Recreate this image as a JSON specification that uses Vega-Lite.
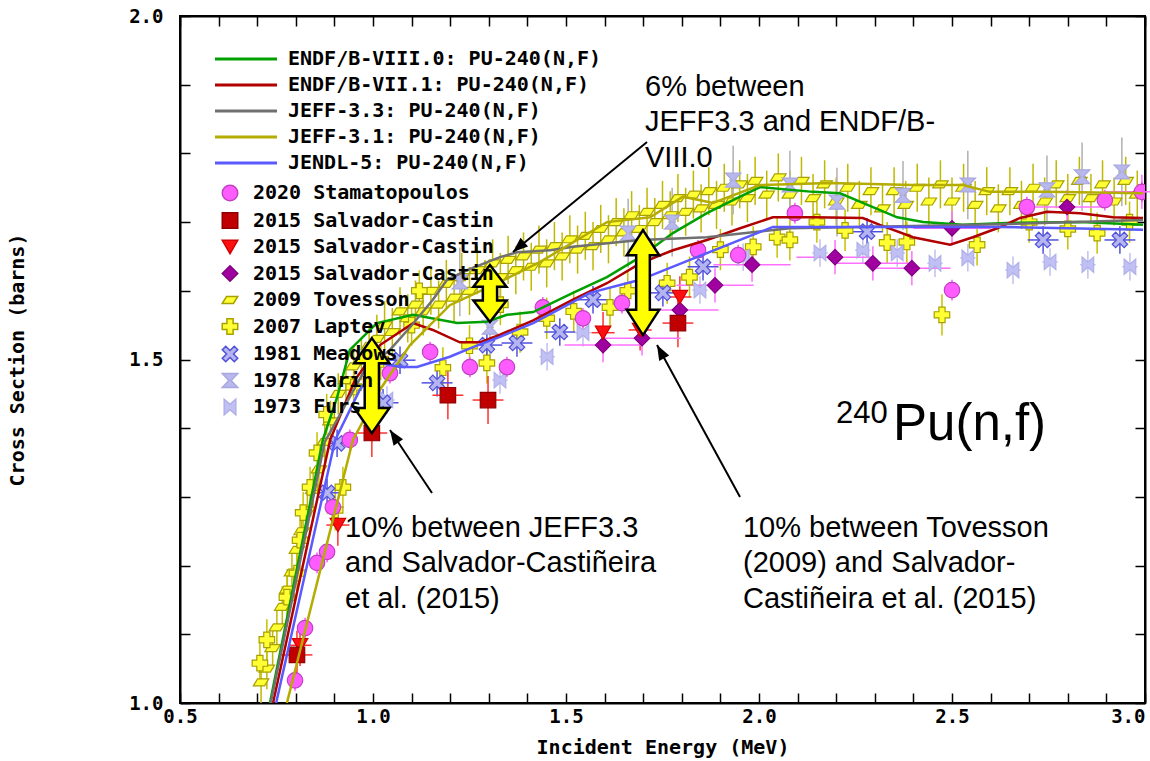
{
  "$schema": "https://vega.github.io/schema/vega-lite/v6.json",
  "width": 965,
  "height": 687,
  "autosize": {"type": "none"},
  "padding": {"left": 180, "top": 16, "right": 5, "bottom": 58},
  "background": "white",
  "config": {
    "view": {"stroke": "black", "strokeWidth": 2},
    "axis": {"grid": false, "domainColor": "black", "domainWidth": 2, "tickColor": "black", "tickWidth": 1.5, "labelColor": "black", "titleColor": "black", "labelFont": "DejaVu Sans Mono", "labelFontWeight": "bold", "labelFontSize": 19, "titleFont": "DejaVu Sans Mono", "titleFontWeight": "bold", "titleFontSize": 20, "labelFlush": false, "labelOverlap": false},
    "legend": {"labelFont": "DejaVu Sans Mono", "labelFontWeight": "bold", "labelFontSize": 20, "labelColor": "black", "labelLimit": 600}
  },
  "datasets": {
    "eval": [
      {"lib": "ENDF/B-VIII.0: PU-240(N,F)", "energy": 0.733, "xs": 1.0},
      {"lib": "ENDF/B-VIII.0: PU-240(N,F)", "energy": 0.87, "xs": 1.383},
      {"lib": "ENDF/B-VIII.0: PU-240(N,F)", "energy": 0.907, "xs": 1.445},
      {"lib": "ENDF/B-VIII.0: PU-240(N,F)", "energy": 0.94, "xs": 1.514},
      {"lib": "ENDF/B-VIII.0: PU-240(N,F)", "energy": 1.01, "xs": 1.553},
      {"lib": "ENDF/B-VIII.0: PU-240(N,F)", "energy": 1.104, "xs": 1.565},
      {"lib": "ENDF/B-VIII.0: PU-240(N,F)", "energy": 1.218, "xs": 1.553},
      {"lib": "ENDF/B-VIII.0: PU-240(N,F)", "energy": 1.295, "xs": 1.555},
      {"lib": "ENDF/B-VIII.0: PU-240(N,F)", "energy": 1.347, "xs": 1.565},
      {"lib": "ENDF/B-VIII.0: PU-240(N,F)", "energy": 1.415, "xs": 1.569},
      {"lib": "ENDF/B-VIII.0: PU-240(N,F)", "energy": 1.518, "xs": 1.597},
      {"lib": "ENDF/B-VIII.0: PU-240(N,F)", "energy": 1.606, "xs": 1.62},
      {"lib": "ENDF/B-VIII.0: PU-240(N,F)", "energy": 1.692, "xs": 1.649},
      {"lib": "ENDF/B-VIII.0: PU-240(N,F)", "energy": 1.777, "xs": 1.684},
      {"lib": "ENDF/B-VIII.0: PU-240(N,F)", "energy": 1.865, "xs": 1.713},
      {"lib": "ENDF/B-VIII.0: PU-240(N,F)", "energy": 1.951, "xs": 1.737},
      {"lib": "ENDF/B-VIII.0: PU-240(N,F)", "energy": 2.003, "xs": 1.751},
      {"lib": "ENDF/B-VIII.0: PU-240(N,F)", "energy": 2.14, "xs": 1.744},
      {"lib": "ENDF/B-VIII.0: PU-240(N,F)", "energy": 2.21, "xs": 1.742},
      {"lib": "ENDF/B-VIII.0: PU-240(N,F)", "energy": 2.269, "xs": 1.728},
      {"lib": "ENDF/B-VIII.0: PU-240(N,F)", "energy": 2.358, "xs": 1.707},
      {"lib": "ENDF/B-VIII.0: PU-240(N,F)", "energy": 2.425, "xs": 1.7},
      {"lib": "ENDF/B-VIII.0: PU-240(N,F)", "energy": 2.528, "xs": 1.696},
      {"lib": "ENDF/B-VIII.0: PU-240(N,F)", "energy": 2.658, "xs": 1.699},
      {"lib": "ENDF/B-VIII.0: PU-240(N,F)", "energy": 2.832, "xs": 1.7},
      {"lib": "ENDF/B-VIII.0: PU-240(N,F)", "energy": 2.995, "xs": 1.696},
      {"lib": "ENDF/B-VII.1: PU-240(N,F)", "energy": 0.741, "xs": 1.0},
      {"lib": "ENDF/B-VII.1: PU-240(N,F)", "energy": 0.889, "xs": 1.383},
      {"lib": "ENDF/B-VII.1: PU-240(N,F)", "energy": 0.953, "xs": 1.47},
      {"lib": "ENDF/B-VII.1: PU-240(N,F)", "energy": 1.018, "xs": 1.521},
      {"lib": "ENDF/B-VII.1: PU-240(N,F)", "energy": 1.104, "xs": 1.553},
      {"lib": "ENDF/B-VII.1: PU-240(N,F)", "energy": 1.155, "xs": 1.543},
      {"lib": "ENDF/B-VII.1: PU-240(N,F)", "energy": 1.225, "xs": 1.525},
      {"lib": "ENDF/B-VII.1: PU-240(N,F)", "energy": 1.277, "xs": 1.525},
      {"lib": "ENDF/B-VII.1: PU-240(N,F)", "energy": 1.329, "xs": 1.536},
      {"lib": "ENDF/B-VII.1: PU-240(N,F)", "energy": 1.415, "xs": 1.557},
      {"lib": "ENDF/B-VII.1: PU-240(N,F)", "energy": 1.518, "xs": 1.587},
      {"lib": "ENDF/B-VII.1: PU-240(N,F)", "energy": 1.606, "xs": 1.611},
      {"lib": "ENDF/B-VII.1: PU-240(N,F)", "energy": 1.692, "xs": 1.64},
      {"lib": "ENDF/B-VII.1: PU-240(N,F)", "energy": 1.777, "xs": 1.659},
      {"lib": "ENDF/B-VII.1: PU-240(N,F)", "energy": 1.865, "xs": 1.674},
      {"lib": "ENDF/B-VII.1: PU-240(N,F)", "energy": 1.951, "xs": 1.691},
      {"lib": "ENDF/B-VII.1: PU-240(N,F)", "energy": 2.036, "xs": 1.707},
      {"lib": "ENDF/B-VII.1: PU-240(N,F)", "energy": 2.14, "xs": 1.707},
      {"lib": "ENDF/B-VII.1: PU-240(N,F)", "energy": 2.269, "xs": 1.706},
      {"lib": "ENDF/B-VII.1: PU-240(N,F)", "energy": 2.313, "xs": 1.696},
      {"lib": "ENDF/B-VII.1: PU-240(N,F)", "energy": 2.399, "xs": 1.678},
      {"lib": "ENDF/B-VII.1: PU-240(N,F)", "energy": 2.495, "xs": 1.667},
      {"lib": "ENDF/B-VII.1: PU-240(N,F)", "energy": 2.554, "xs": 1.678},
      {"lib": "ENDF/B-VII.1: PU-240(N,F)", "energy": 2.617, "xs": 1.691},
      {"lib": "ENDF/B-VII.1: PU-240(N,F)", "energy": 2.676, "xs": 1.706},
      {"lib": "ENDF/B-VII.1: PU-240(N,F)", "energy": 2.746, "xs": 1.715},
      {"lib": "ENDF/B-VII.1: PU-240(N,F)", "energy": 2.832, "xs": 1.713},
      {"lib": "ENDF/B-VII.1: PU-240(N,F)", "energy": 2.917, "xs": 1.707},
      {"lib": "ENDF/B-VII.1: PU-240(N,F)", "energy": 2.995, "xs": 1.706},
      {"lib": "JEFF-3.3: PU-240(N,F)", "energy": 0.735, "xs": 1.0},
      {"lib": "JEFF-3.3: PU-240(N,F)", "energy": 0.875, "xs": 1.38},
      {"lib": "JEFF-3.3: PU-240(N,F)", "energy": 0.979, "xs": 1.485},
      {"lib": "JEFF-3.3: PU-240(N,F)", "energy": 1.044, "xs": 1.514},
      {"lib": "JEFF-3.3: PU-240(N,F)", "energy": 1.096, "xs": 1.547},
      {"lib": "JEFF-3.3: PU-240(N,F)", "energy": 1.155, "xs": 1.587},
      {"lib": "JEFF-3.3: PU-240(N,F)", "energy": 1.192, "xs": 1.616},
      {"lib": "JEFF-3.3: PU-240(N,F)", "energy": 1.244, "xs": 1.63},
      {"lib": "JEFF-3.3: PU-240(N,F)", "energy": 1.329, "xs": 1.649},
      {"lib": "JEFF-3.3: PU-240(N,F)", "energy": 1.373, "xs": 1.656},
      {"lib": "JEFF-3.3: PU-240(N,F)", "energy": 1.459, "xs": 1.659},
      {"lib": "JEFF-3.3: PU-240(N,F)", "energy": 1.518, "xs": 1.664},
      {"lib": "JEFF-3.3: PU-240(N,F)", "energy": 1.692, "xs": 1.674},
      {"lib": "JEFF-3.3: PU-240(N,F)", "energy": 1.865, "xs": 1.678},
      {"lib": "JEFF-3.3: PU-240(N,F)", "energy": 2.08, "xs": 1.691},
      {"lib": "JEFF-3.3: PU-240(N,F)", "energy": 2.365, "xs": 1.694},
      {"lib": "JEFF-3.3: PU-240(N,F)", "energy": 2.624, "xs": 1.697},
      {"lib": "JEFF-3.3: PU-240(N,F)", "energy": 2.995, "xs": 1.703},
      {"lib": "JEFF-3.1: PU-240(N,F)", "energy": 0.777, "xs": 1.0},
      {"lib": "JEFF-3.1: PU-240(N,F)", "energy": 0.948, "xs": 1.383},
      {"lib": "JEFF-3.1: PU-240(N,F)", "energy": 1.018, "xs": 1.456},
      {"lib": "JEFF-3.1: PU-240(N,F)", "energy": 1.096, "xs": 1.521},
      {"lib": "JEFF-3.1: PU-240(N,F)", "energy": 1.199, "xs": 1.579},
      {"lib": "JEFF-3.1: PU-240(N,F)", "energy": 1.329, "xs": 1.613},
      {"lib": "JEFF-3.1: PU-240(N,F)", "energy": 1.433, "xs": 1.642},
      {"lib": "JEFF-3.1: PU-240(N,F)", "energy": 1.606, "xs": 1.7},
      {"lib": "JEFF-3.1: PU-240(N,F)", "energy": 1.718, "xs": 1.707},
      {"lib": "JEFF-3.1: PU-240(N,F)", "energy": 1.803, "xs": 1.737},
      {"lib": "JEFF-3.1: PU-240(N,F)", "energy": 1.881, "xs": 1.728},
      {"lib": "JEFF-3.1: PU-240(N,F)", "energy": 2.003, "xs": 1.754},
      {"lib": "JEFF-3.1: PU-240(N,F)", "energy": 2.184, "xs": 1.757},
      {"lib": "JEFF-3.1: PU-240(N,F)", "energy": 2.399, "xs": 1.754},
      {"lib": "JEFF-3.1: PU-240(N,F)", "energy": 2.528, "xs": 1.754},
      {"lib": "JEFF-3.1: PU-240(N,F)", "energy": 2.598, "xs": 1.744},
      {"lib": "JEFF-3.1: PU-240(N,F)", "energy": 2.746, "xs": 1.744},
      {"lib": "JEFF-3.1: PU-240(N,F)", "energy": 2.995, "xs": 1.742},
      {"lib": "JENDL-5: PU-240(N,F)", "energy": 0.749, "xs": 1.0},
      {"lib": "JENDL-5: PU-240(N,F)", "energy": 0.902, "xs": 1.383},
      {"lib": "JENDL-5: PU-240(N,F)", "energy": 0.966, "xs": 1.456},
      {"lib": "JENDL-5: PU-240(N,F)", "energy": 1.018, "xs": 1.495},
      {"lib": "JENDL-5: PU-240(N,F)", "energy": 1.07, "xs": 1.489},
      {"lib": "JENDL-5: PU-240(N,F)", "energy": 1.114, "xs": 1.489},
      {"lib": "JENDL-5: PU-240(N,F)", "energy": 1.199, "xs": 1.504},
      {"lib": "JENDL-5: PU-240(N,F)", "energy": 1.259, "xs": 1.518},
      {"lib": "JENDL-5: PU-240(N,F)", "energy": 1.329, "xs": 1.533},
      {"lib": "JENDL-5: PU-240(N,F)", "energy": 1.415, "xs": 1.553},
      {"lib": "JENDL-5: PU-240(N,F)", "energy": 1.562, "xs": 1.597},
      {"lib": "JENDL-5: PU-240(N,F)", "energy": 1.692, "xs": 1.616},
      {"lib": "JENDL-5: PU-240(N,F)", "energy": 1.821, "xs": 1.645},
      {"lib": "JENDL-5: PU-240(N,F)", "energy": 1.951, "xs": 1.674},
      {"lib": "JENDL-5: PU-240(N,F)", "energy": 2.036, "xs": 1.693},
      {"lib": "JENDL-5: PU-240(N,F)", "energy": 2.365, "xs": 1.693},
      {"lib": "JENDL-5: PU-240(N,F)", "energy": 2.624, "xs": 1.693},
      {"lib": "JENDL-5: PU-240(N,F)", "energy": 2.995, "xs": 1.689}
    ],
    "exp": [
      {"series": "2009 Tovesson", "energy": 0.71, "xs": 1.03, "dE": 0.012, "dxs": 0.03},
      {"series": "2009 Tovesson", "energy": 0.725, "xs": 1.05, "dE": 0.012, "dxs": 0.03},
      {"series": "2009 Tovesson", "energy": 0.74, "xs": 1.08, "dE": 0.012, "dxs": 0.03},
      {"series": "2009 Tovesson", "energy": 0.751, "xs": 1.11, "dE": 0.012, "dxs": 0.03},
      {"series": "2009 Tovesson", "energy": 0.765, "xs": 1.14, "dE": 0.012, "dxs": 0.03},
      {"series": "2009 Tovesson", "energy": 0.778, "xs": 1.165, "dE": 0.012, "dxs": 0.03},
      {"series": "2009 Tovesson", "energy": 0.79, "xs": 1.19, "dE": 0.012, "dxs": 0.03},
      {"series": "2009 Tovesson", "energy": 0.803, "xs": 1.223, "dE": 0.012, "dxs": 0.03},
      {"series": "2009 Tovesson", "energy": 0.815, "xs": 1.25, "dE": 0.012, "dxs": 0.03},
      {"series": "2009 Tovesson", "energy": 0.83, "xs": 1.28, "dE": 0.012, "dxs": 0.03},
      {"series": "2009 Tovesson", "energy": 0.845, "xs": 1.31, "dE": 0.012, "dxs": 0.03},
      {"series": "2009 Tovesson", "energy": 0.86, "xs": 1.34, "dE": 0.012, "dxs": 0.03},
      {"series": "2009 Tovesson", "energy": 0.875, "xs": 1.38, "dE": 0.012, "dxs": 0.03},
      {"series": "2009 Tovesson", "energy": 0.89, "xs": 1.41, "dE": 0.012, "dxs": 0.03},
      {"series": "2009 Tovesson", "energy": 0.91, "xs": 1.45, "dE": 0.012, "dxs": 0.03},
      {"series": "2009 Tovesson", "energy": 0.93, "xs": 1.47, "dE": 0.012, "dxs": 0.03},
      {"series": "2009 Tovesson", "energy": 0.95, "xs": 1.49, "dE": 0.012, "dxs": 0.03},
      {"series": "2009 Tovesson", "energy": 0.97, "xs": 1.5, "dE": 0.012, "dxs": 0.03},
      {"series": "2009 Tovesson", "energy": 0.99, "xs": 1.52, "dE": 0.012, "dxs": 0.03},
      {"series": "2009 Tovesson", "energy": 1.01, "xs": 1.53, "dE": 0.012, "dxs": 0.035},
      {"series": "2009 Tovesson", "energy": 1.03, "xs": 1.55, "dE": 0.012, "dxs": 0.035},
      {"series": "2009 Tovesson", "energy": 1.05, "xs": 1.54, "dE": 0.012, "dxs": 0.035},
      {"series": "2009 Tovesson", "energy": 1.07, "xs": 1.57, "dE": 0.012, "dxs": 0.035},
      {"series": "2009 Tovesson", "energy": 1.09, "xs": 1.56, "dE": 0.012, "dxs": 0.035},
      {"series": "2009 Tovesson", "energy": 1.11, "xs": 1.58, "dE": 0.012, "dxs": 0.035},
      {"series": "2009 Tovesson", "energy": 1.13, "xs": 1.57, "dE": 0.012, "dxs": 0.035},
      {"series": "2009 Tovesson", "energy": 1.15, "xs": 1.6, "dE": 0.012, "dxs": 0.035},
      {"series": "2009 Tovesson", "energy": 1.17, "xs": 1.58, "dE": 0.012, "dxs": 0.035},
      {"series": "2009 Tovesson", "energy": 1.19, "xs": 1.61, "dE": 0.012, "dxs": 0.035},
      {"series": "2009 Tovesson", "energy": 1.21, "xs": 1.59, "dE": 0.012, "dxs": 0.035},
      {"series": "2009 Tovesson", "energy": 1.23, "xs": 1.62, "dE": 0.012, "dxs": 0.035},
      {"series": "2009 Tovesson", "energy": 1.25, "xs": 1.6, "dE": 0.012, "dxs": 0.035},
      {"series": "2009 Tovesson", "energy": 1.27, "xs": 1.63, "dE": 0.012, "dxs": 0.035},
      {"series": "2009 Tovesson", "energy": 1.29, "xs": 1.61, "dE": 0.012, "dxs": 0.035},
      {"series": "2009 Tovesson", "energy": 1.31, "xs": 1.64, "dE": 0.012, "dxs": 0.035},
      {"series": "2009 Tovesson", "energy": 1.33, "xs": 1.62, "dE": 0.012, "dxs": 0.035},
      {"series": "2009 Tovesson", "energy": 1.35, "xs": 1.645, "dE": 0.012, "dxs": 0.035},
      {"series": "2009 Tovesson", "energy": 1.37, "xs": 1.63, "dE": 0.012, "dxs": 0.035},
      {"series": "2009 Tovesson", "energy": 1.39, "xs": 1.65, "dE": 0.012, "dxs": 0.035},
      {"series": "2009 Tovesson", "energy": 1.41, "xs": 1.635, "dE": 0.012, "dxs": 0.035},
      {"series": "2009 Tovesson", "energy": 1.43, "xs": 1.66, "dE": 0.012, "dxs": 0.035},
      {"series": "2009 Tovesson", "energy": 1.45, "xs": 1.64, "dE": 0.012, "dxs": 0.035},
      {"series": "2009 Tovesson", "energy": 1.47, "xs": 1.665, "dE": 0.012, "dxs": 0.035},
      {"series": "2009 Tovesson", "energy": 1.49, "xs": 1.65, "dE": 0.012, "dxs": 0.035},
      {"series": "2009 Tovesson", "energy": 1.51, "xs": 1.675, "dE": 0.012, "dxs": 0.035},
      {"series": "2009 Tovesson", "energy": 1.53, "xs": 1.66, "dE": 0.012, "dxs": 0.035},
      {"series": "2009 Tovesson", "energy": 1.55, "xs": 1.68, "dE": 0.012, "dxs": 0.035},
      {"series": "2009 Tovesson", "energy": 1.57, "xs": 1.665, "dE": 0.012, "dxs": 0.035},
      {"series": "2009 Tovesson", "energy": 1.59, "xs": 1.69, "dE": 0.012, "dxs": 0.035},
      {"series": "2009 Tovesson", "energy": 1.61, "xs": 1.675, "dE": 0.012, "dxs": 0.035},
      {"series": "2009 Tovesson", "energy": 1.63, "xs": 1.7, "dE": 0.012, "dxs": 0.035},
      {"series": "2009 Tovesson", "energy": 1.65, "xs": 1.685, "dE": 0.012, "dxs": 0.035},
      {"series": "2009 Tovesson", "energy": 1.67, "xs": 1.71, "dE": 0.012, "dxs": 0.035},
      {"series": "2009 Tovesson", "energy": 1.69, "xs": 1.69, "dE": 0.012, "dxs": 0.035},
      {"series": "2009 Tovesson", "energy": 1.71, "xs": 1.715, "dE": 0.012, "dxs": 0.035},
      {"series": "2009 Tovesson", "energy": 1.73, "xs": 1.7, "dE": 0.012, "dxs": 0.035},
      {"series": "2009 Tovesson", "energy": 1.75, "xs": 1.725, "dE": 0.012, "dxs": 0.035},
      {"series": "2009 Tovesson", "energy": 1.77, "xs": 1.71, "dE": 0.012, "dxs": 0.035},
      {"series": "2009 Tovesson", "energy": 1.79, "xs": 1.735, "dE": 0.012, "dxs": 0.035},
      {"series": "2009 Tovesson", "energy": 1.81, "xs": 1.715, "dE": 0.012, "dxs": 0.035},
      {"series": "2009 Tovesson", "energy": 1.83, "xs": 1.74, "dE": 0.012, "dxs": 0.035},
      {"series": "2009 Tovesson", "energy": 1.85, "xs": 1.72, "dE": 0.012, "dxs": 0.035},
      {"series": "2009 Tovesson", "energy": 1.87, "xs": 1.745, "dE": 0.012, "dxs": 0.035},
      {"series": "2009 Tovesson", "energy": 1.89, "xs": 1.725, "dE": 0.012, "dxs": 0.035},
      {"series": "2009 Tovesson", "energy": 1.91, "xs": 1.75, "dE": 0.012, "dxs": 0.035},
      {"series": "2009 Tovesson", "energy": 1.93, "xs": 1.73, "dE": 0.012, "dxs": 0.035},
      {"series": "2009 Tovesson", "energy": 1.95, "xs": 1.755, "dE": 0.012, "dxs": 0.035},
      {"series": "2009 Tovesson", "energy": 1.97, "xs": 1.735, "dE": 0.012, "dxs": 0.035},
      {"series": "2009 Tovesson", "energy": 1.99, "xs": 1.76, "dE": 0.012, "dxs": 0.035},
      {"series": "2009 Tovesson", "energy": 2.02, "xs": 1.74, "dE": 0.012, "dxs": 0.035},
      {"series": "2009 Tovesson", "energy": 2.05, "xs": 1.765, "dE": 0.012, "dxs": 0.035},
      {"series": "2009 Tovesson", "energy": 2.08, "xs": 1.74, "dE": 0.012, "dxs": 0.035},
      {"series": "2009 Tovesson", "energy": 2.11, "xs": 1.76, "dE": 0.012, "dxs": 0.035},
      {"series": "2009 Tovesson", "energy": 2.14, "xs": 1.735, "dE": 0.012, "dxs": 0.035},
      {"series": "2009 Tovesson", "energy": 2.17, "xs": 1.755, "dE": 0.012, "dxs": 0.035},
      {"series": "2009 Tovesson", "energy": 2.2, "xs": 1.73, "dE": 0.012, "dxs": 0.035},
      {"series": "2009 Tovesson", "energy": 2.23, "xs": 1.75, "dE": 0.012, "dxs": 0.035},
      {"series": "2009 Tovesson", "energy": 2.26, "xs": 1.725, "dE": 0.012, "dxs": 0.035},
      {"series": "2009 Tovesson", "energy": 2.29, "xs": 1.745, "dE": 0.012, "dxs": 0.035},
      {"series": "2009 Tovesson", "energy": 2.32, "xs": 1.72, "dE": 0.012, "dxs": 0.035},
      {"series": "2009 Tovesson", "energy": 2.35, "xs": 1.745, "dE": 0.012, "dxs": 0.035},
      {"series": "2009 Tovesson", "energy": 2.38, "xs": 1.725, "dE": 0.012, "dxs": 0.035},
      {"series": "2009 Tovesson", "energy": 2.41, "xs": 1.75, "dE": 0.012, "dxs": 0.035},
      {"series": "2009 Tovesson", "energy": 2.44, "xs": 1.73, "dE": 0.012, "dxs": 0.035},
      {"series": "2009 Tovesson", "energy": 2.47, "xs": 1.755, "dE": 0.012, "dxs": 0.035},
      {"series": "2009 Tovesson", "energy": 2.5, "xs": 1.73, "dE": 0.012, "dxs": 0.035},
      {"series": "2009 Tovesson", "energy": 2.53, "xs": 1.75, "dE": 0.012, "dxs": 0.035},
      {"series": "2009 Tovesson", "energy": 2.56, "xs": 1.725, "dE": 0.012, "dxs": 0.035},
      {"series": "2009 Tovesson", "energy": 2.59, "xs": 1.745, "dE": 0.012, "dxs": 0.035},
      {"series": "2009 Tovesson", "energy": 2.62, "xs": 1.72, "dE": 0.012, "dxs": 0.035},
      {"series": "2009 Tovesson", "energy": 2.65, "xs": 1.745, "dE": 0.012, "dxs": 0.035},
      {"series": "2009 Tovesson", "energy": 2.68, "xs": 1.725, "dE": 0.012, "dxs": 0.035},
      {"series": "2009 Tovesson", "energy": 2.71, "xs": 1.75, "dE": 0.012, "dxs": 0.035},
      {"series": "2009 Tovesson", "energy": 2.74, "xs": 1.73, "dE": 0.012, "dxs": 0.035},
      {"series": "2009 Tovesson", "energy": 2.77, "xs": 1.755, "dE": 0.012, "dxs": 0.035},
      {"series": "2009 Tovesson", "energy": 2.8, "xs": 1.735, "dE": 0.012, "dxs": 0.035},
      {"series": "2009 Tovesson", "energy": 2.83, "xs": 1.76, "dE": 0.012, "dxs": 0.035},
      {"series": "2009 Tovesson", "energy": 2.86, "xs": 1.735, "dE": 0.012, "dxs": 0.035},
      {"series": "2009 Tovesson", "energy": 2.89, "xs": 1.755, "dE": 0.012, "dxs": 0.035},
      {"series": "2009 Tovesson", "energy": 2.92, "xs": 1.73, "dE": 0.012, "dxs": 0.035},
      {"series": "2009 Tovesson", "energy": 2.95, "xs": 1.76, "dE": 0.012, "dxs": 0.035},
      {"series": "2009 Tovesson", "energy": 2.98, "xs": 1.74, "dE": 0.012, "dxs": 0.035},
      {"series": "2007 Laptev", "energy": 0.707, "xs": 1.058, "dE": 0.02, "dxs": 0.03},
      {"series": "2007 Laptev", "energy": 0.725, "xs": 1.092, "dE": 0.02, "dxs": 0.03},
      {"series": "2007 Laptev", "energy": 0.777, "xs": 1.154, "dE": 0.02, "dxs": 0.03},
      {"series": "2007 Laptev", "energy": 0.803, "xs": 1.189, "dE": 0.02, "dxs": 0.03},
      {"series": "2007 Laptev", "energy": 0.811, "xs": 1.237, "dE": 0.02, "dxs": 0.03},
      {"series": "2007 Laptev", "energy": 0.819, "xs": 1.277, "dE": 0.02, "dxs": 0.03},
      {"series": "2007 Laptev", "energy": 0.837, "xs": 1.314, "dE": 0.02, "dxs": 0.03},
      {"series": "2007 Laptev", "energy": 0.855, "xs": 1.364, "dE": 0.02, "dxs": 0.03},
      {"series": "2007 Laptev", "energy": 0.902, "xs": 1.281, "dE": 0.02, "dxs": 0.03},
      {"series": "2007 Laptev", "energy": 0.922, "xs": 1.314, "dE": 0.02, "dxs": 0.03},
      {"series": "2007 Laptev", "energy": 0.88, "xs": 1.42, "dE": 0.02, "dxs": 0.03},
      {"series": "2007 Laptev", "energy": 0.95, "xs": 1.46, "dE": 0.02, "dxs": 0.03},
      {"series": "2007 Laptev", "energy": 1.02, "xs": 1.5, "dE": 0.02, "dxs": 0.03},
      {"series": "2007 Laptev", "energy": 1.1, "xs": 1.55, "dE": 0.02, "dxs": 0.03},
      {"series": "2007 Laptev", "energy": 1.12, "xs": 1.6, "dE": 0.02, "dxs": 0.03},
      {"series": "2007 Laptev", "energy": 1.181, "xs": 1.488, "dE": 0.02, "dxs": 0.03},
      {"series": "2007 Laptev", "energy": 1.25, "xs": 1.52, "dE": 0.02, "dxs": 0.03},
      {"series": "2007 Laptev", "energy": 1.295, "xs": 1.495, "dE": 0.02, "dxs": 0.03},
      {"series": "2007 Laptev", "energy": 1.33, "xs": 1.58, "dE": 0.02, "dxs": 0.03},
      {"series": "2007 Laptev", "energy": 1.381, "xs": 1.54, "dE": 0.02, "dxs": 0.03},
      {"series": "2007 Laptev", "energy": 1.45, "xs": 1.56, "dE": 0.02, "dxs": 0.03},
      {"series": "2007 Laptev", "energy": 1.52, "xs": 1.57, "dE": 0.02, "dxs": 0.03},
      {"series": "2007 Laptev", "energy": 1.614, "xs": 1.576, "dE": 0.02, "dxs": 0.03},
      {"series": "2007 Laptev", "energy": 1.66, "xs": 1.6, "dE": 0.02, "dxs": 0.03},
      {"series": "2007 Laptev", "energy": 1.762, "xs": 1.611, "dE": 0.02, "dxs": 0.03},
      {"series": "2007 Laptev", "energy": 1.82, "xs": 1.62, "dE": 0.02, "dxs": 0.03},
      {"series": "2007 Laptev", "energy": 1.9, "xs": 1.66, "dE": 0.02, "dxs": 0.03},
      {"series": "2007 Laptev", "energy": 1.985, "xs": 1.664, "dE": 0.02, "dxs": 0.03},
      {"series": "2007 Laptev", "energy": 2.047, "xs": 1.678, "dE": 0.02, "dxs": 0.03},
      {"series": "2007 Laptev", "energy": 2.08, "xs": 1.674, "dE": 0.02, "dxs": 0.03},
      {"series": "2007 Laptev", "energy": 2.15, "xs": 1.7, "dE": 0.02, "dxs": 0.03},
      {"series": "2007 Laptev", "energy": 2.223, "xs": 1.688, "dE": 0.02, "dxs": 0.03},
      {"series": "2007 Laptev", "energy": 2.332, "xs": 1.67, "dE": 0.02, "dxs": 0.03},
      {"series": "2007 Laptev", "energy": 2.383, "xs": 1.671, "dE": 0.02, "dxs": 0.03},
      {"series": "2007 Laptev", "energy": 2.474, "xs": 1.565, "dE": 0.02, "dxs": 0.03},
      {"series": "2007 Laptev", "energy": 2.565, "xs": 1.667, "dE": 0.02, "dxs": 0.03},
      {"series": "2007 Laptev", "energy": 2.7, "xs": 1.7, "dE": 0.02, "dxs": 0.03},
      {"series": "2007 Laptev", "energy": 2.8, "xs": 1.69, "dE": 0.02, "dxs": 0.03},
      {"series": "2007 Laptev", "energy": 2.876, "xs": 1.684, "dE": 0.02, "dxs": 0.03},
      {"series": "2007 Laptev", "energy": 2.96, "xs": 1.7, "dE": 0.02, "dxs": 0.03},
      {"series": "1978 Karin", "energy": 1.225, "xs": 1.613, "dE": 0.01, "dxs": 0.05},
      {"series": "1978 Karin", "energy": 1.303, "xs": 1.547, "dE": 0.01, "dxs": 0.05},
      {"series": "1978 Karin", "energy": 1.661, "xs": 1.684, "dE": 0.01, "dxs": 0.05},
      {"series": "1978 Karin", "energy": 1.775, "xs": 1.7, "dE": 0.01, "dxs": 0.05},
      {"series": "1978 Karin", "energy": 1.933, "xs": 1.761, "dE": 0.01, "dxs": 0.05},
      {"series": "1978 Karin", "energy": 2.08, "xs": 1.754, "dE": 0.01, "dxs": 0.05},
      {"series": "1978 Karin", "energy": 2.202, "xs": 1.729, "dE": 0.01, "dxs": 0.05},
      {"series": "1978 Karin", "energy": 2.373, "xs": 1.739, "dE": 0.01, "dxs": 0.05},
      {"series": "1978 Karin", "energy": 2.541, "xs": 1.754, "dE": 0.01, "dxs": 0.05},
      {"series": "1978 Karin", "energy": 2.746, "xs": 1.747, "dE": 0.01, "dxs": 0.05},
      {"series": "1978 Karin", "energy": 2.837, "xs": 1.766, "dE": 0.01, "dxs": 0.05},
      {"series": "1978 Karin", "energy": 2.94, "xs": 1.773, "dE": 0.01, "dxs": 0.05},
      {"series": "1973 Furs", "energy": 1.036, "xs": 1.441, "dE": 0.02, "dxs": 0.02},
      {"series": "1973 Furs", "energy": 1.329, "xs": 1.47, "dE": 0.02, "dxs": 0.02},
      {"series": "1973 Furs", "energy": 1.451, "xs": 1.504, "dE": 0.02, "dxs": 0.02},
      {"series": "1973 Furs", "energy": 1.544, "xs": 1.539, "dE": 0.02, "dxs": 0.02},
      {"series": "1973 Furs", "energy": 1.847, "xs": 1.601, "dE": 0.02, "dxs": 0.02},
      {"series": "1973 Furs", "energy": 1.959, "xs": 1.649, "dE": 0.02, "dxs": 0.02},
      {"series": "1973 Furs", "energy": 2.158, "xs": 1.655, "dE": 0.02, "dxs": 0.02},
      {"series": "1973 Furs", "energy": 2.269, "xs": 1.659, "dE": 0.02, "dxs": 0.02},
      {"series": "1973 Furs", "energy": 2.358, "xs": 1.655, "dE": 0.02, "dxs": 0.02},
      {"series": "1973 Furs", "energy": 2.456, "xs": 1.64, "dE": 0.02, "dxs": 0.02},
      {"series": "1973 Furs", "energy": 2.541, "xs": 1.648, "dE": 0.02, "dxs": 0.02},
      {"series": "1973 Furs", "energy": 2.658, "xs": 1.63, "dE": 0.02, "dxs": 0.02},
      {"series": "1973 Furs", "energy": 2.754, "xs": 1.642, "dE": 0.02, "dxs": 0.02},
      {"series": "1973 Furs", "energy": 2.852, "xs": 1.638, "dE": 0.02, "dxs": 0.02},
      {"series": "1973 Furs", "energy": 2.961, "xs": 1.635, "dE": 0.02, "dxs": 0.02},
      {"series": "1981 Meadows", "energy": 0.881, "xs": 1.306, "dE": 0.04, "dxs": 0.02},
      {"series": "1981 Meadows", "energy": 0.907, "xs": 1.378, "dE": 0.04, "dxs": 0.02},
      {"series": "1981 Meadows", "energy": 1.026, "xs": 1.437, "dE": 0.04, "dxs": 0.02},
      {"series": "1981 Meadows", "energy": 1.07, "xs": 1.499, "dE": 0.04, "dxs": 0.02},
      {"series": "1981 Meadows", "energy": 1.166, "xs": 1.466, "dE": 0.04, "dxs": 0.02},
      {"series": "1981 Meadows", "energy": 1.295, "xs": 1.521, "dE": 0.04, "dxs": 0.02},
      {"series": "1981 Meadows", "energy": 1.373, "xs": 1.524, "dE": 0.04, "dxs": 0.02},
      {"series": "1981 Meadows", "energy": 1.484, "xs": 1.54, "dE": 0.04, "dxs": 0.02},
      {"series": "1981 Meadows", "energy": 1.57, "xs": 1.587, "dE": 0.04, "dxs": 0.02},
      {"series": "1981 Meadows", "energy": 1.751, "xs": 1.597, "dE": 0.04, "dxs": 0.02},
      {"series": "1981 Meadows", "energy": 1.855, "xs": 1.635, "dE": 0.04, "dxs": 0.02},
      {"series": "1981 Meadows", "energy": 2.28, "xs": 1.686, "dE": 0.04, "dxs": 0.02},
      {"series": "1981 Meadows", "energy": 2.736, "xs": 1.674, "dE": 0.04, "dxs": 0.02},
      {"series": "1981 Meadows", "energy": 2.935, "xs": 1.674, "dE": 0.04, "dxs": 0.02},
      {"series": "2015 Salvador-Castin #3", "energy": 1.596, "xs": 1.521, "dE": 0.1, "dxs": 0.025},
      {"series": "2015 Salvador-Castin #3", "energy": 1.697, "xs": 1.531, "dE": 0.1, "dxs": 0.025},
      {"series": "2015 Salvador-Castin #3", "energy": 1.795, "xs": 1.572, "dE": 0.1, "dxs": 0.025},
      {"series": "2015 Salvador-Castin #3", "energy": 1.886, "xs": 1.608, "dE": 0.1, "dxs": 0.025},
      {"series": "2015 Salvador-Castin #3", "energy": 1.982, "xs": 1.638, "dE": 0.1, "dxs": 0.025},
      {"series": "2015 Salvador-Castin #3", "energy": 2.197, "xs": 1.649, "dE": 0.1, "dxs": 0.025},
      {"series": "2015 Salvador-Castin #3", "energy": 2.295, "xs": 1.64, "dE": 0.1, "dxs": 0.025},
      {"series": "2015 Salvador-Castin #3", "energy": 2.396, "xs": 1.633, "dE": 0.1, "dxs": 0.025},
      {"series": "2015 Salvador-Castin #3", "energy": 2.5, "xs": 1.691, "dE": 0.1, "dxs": 0.025},
      {"series": "2015 Salvador-Castin #3", "energy": 2.798, "xs": 1.722, "dE": 0.1, "dxs": 0.025},
      {"series": "2015 Salvador-Castin #3", "energy": 2.992, "xs": 1.744, "dE": 0.1, "dxs": 0.025},
      {"series": "2015 Salvador-Castin #2", "energy": 0.811, "xs": 1.084, "dE": 0.03, "dxs": 0.03},
      {"series": "2015 Salvador-Castin #2", "energy": 0.909, "xs": 1.259, "dE": 0.03, "dxs": 0.03},
      {"series": "2015 Salvador-Castin #2", "energy": 1.596, "xs": 1.539, "dE": 0.03, "dxs": 0.03},
      {"series": "2015 Salvador-Castin #2", "energy": 1.692, "xs": 1.543, "dE": 0.03, "dxs": 0.03},
      {"series": "2015 Salvador-Castin #2", "energy": 1.795, "xs": 1.591, "dE": 0.03, "dxs": 0.03},
      {"series": "2015 Salvador-Castin #1", "energy": 0.803, "xs": 1.07, "dE": 0.04, "dxs": 0.035},
      {"series": "2015 Salvador-Castin #1", "energy": 0.997, "xs": 1.393, "dE": 0.04, "dxs": 0.035},
      {"series": "2015 Salvador-Castin #1", "energy": 1.194, "xs": 1.448, "dE": 0.04, "dxs": 0.035},
      {"series": "2015 Salvador-Castin #1", "energy": 1.298, "xs": 1.441, "dE": 0.04, "dxs": 0.035},
      {"series": "2015 Salvador-Castin #1", "energy": 1.79, "xs": 1.553, "dE": 0.04, "dxs": 0.035},
      {"series": "2020 Stamatopoulos", "energy": 0.798, "xs": 1.033, "dE": 0.01, "dxs": 0.015},
      {"series": "2020 Stamatopoulos", "energy": 0.824, "xs": 1.109, "dE": 0.01, "dxs": 0.015},
      {"series": "2020 Stamatopoulos", "energy": 0.855, "xs": 1.204, "dE": 0.01, "dxs": 0.015},
      {"series": "2020 Stamatopoulos", "energy": 0.881, "xs": 1.22, "dE": 0.01, "dxs": 0.015},
      {"series": "2020 Stamatopoulos", "energy": 0.896, "xs": 1.285, "dE": 0.01, "dxs": 0.015},
      {"series": "2020 Stamatopoulos", "energy": 0.94, "xs": 1.383, "dE": 0.01, "dxs": 0.015},
      {"series": "2020 Stamatopoulos", "energy": 1.044, "xs": 1.48, "dE": 0.01, "dxs": 0.015},
      {"series": "2020 Stamatopoulos", "energy": 1.148, "xs": 1.511, "dE": 0.01, "dxs": 0.015},
      {"series": "2020 Stamatopoulos", "energy": 1.251, "xs": 1.489, "dE": 0.01, "dxs": 0.015},
      {"series": "2020 Stamatopoulos", "energy": 1.347, "xs": 1.489, "dE": 0.01, "dxs": 0.015},
      {"series": "2020 Stamatopoulos", "energy": 1.44, "xs": 1.576, "dE": 0.01, "dxs": 0.015},
      {"series": "2020 Stamatopoulos", "energy": 1.544, "xs": 1.56, "dE": 0.01, "dxs": 0.015},
      {"series": "2020 Stamatopoulos", "energy": 1.645, "xs": 1.582, "dE": 0.01, "dxs": 0.015},
      {"series": "2020 Stamatopoulos", "energy": 1.842, "xs": 1.659, "dE": 0.01, "dxs": 0.015},
      {"series": "2020 Stamatopoulos", "energy": 1.946, "xs": 1.652, "dE": 0.01, "dxs": 0.015},
      {"series": "2020 Stamatopoulos", "energy": 2.093, "xs": 1.713, "dE": 0.01, "dxs": 0.015},
      {"series": "2020 Stamatopoulos", "energy": 2.5, "xs": 1.601, "dE": 0.01, "dxs": 0.015},
      {"series": "2020 Stamatopoulos", "energy": 2.694, "xs": 1.722, "dE": 0.01, "dxs": 0.015},
      {"series": "2020 Stamatopoulos", "energy": 2.896, "xs": 1.732, "dE": 0.01, "dxs": 0.015},
      {"series": "2020 Stamatopoulos", "energy": 2.992, "xs": 1.744, "dE": 0.01, "dxs": 0.015}
    ],
    "notes": [
      {"energy": 1.7047, "xs": 1.8836, "text": "6% between"},
      {"energy": 1.7047, "xs": 1.8319, "text": "JEFF3.3 and ENDF/B-"},
      {"energy": 1.7047, "xs": 1.7795, "text": "VIII.0"},
      {"energy": 0.9275, "xs": 1.2416, "text": "10% between JEFF3.3"},
      {"energy": 0.9275, "xs": 1.1907, "text": "and Salvador-Castiñeira"},
      {"energy": 0.9275, "xs": 1.1383, "text": "et al. (2015)"},
      {"energy": 1.9585, "xs": 1.2416, "text": "10% between Tovesson"},
      {"energy": 1.9585, "xs": 1.1907, "text": "(2009) and Salvador-"},
      {"energy": 1.9585, "xs": 1.1383, "text": "Castiñeira et al. (2015)"}
    ],
    "arrows": [
      {"id": "a1", "energy": 1.7099, "xs": 1.8166, "energy2": 1.3627, "xs2": 1.6565},
      {"id": "a2", "energy": 1.1528, "xs": 1.3057, "energy2": 1.044, "xs2": 1.3974},
      {"id": "a3", "energy": 1.9508, "xs": 1.2999, "energy2": 1.7358, "xs2": 1.5211}
    ],
    "darrows": [
      {"id": "A", "energy": 0.997, "xs": 1.462},
      {"id": "B", "energy": 1.303, "xs": 1.596},
      {"id": "C", "energy": 1.6995, "xs": 1.612}
    ]
  },
  "layer": [
    {
      "data": {"name": "exp"},
      "mark": {"type": "errorbar", "ticks": false, "thickness": 1.5},
      "encoding": {
        "x": {"field": "energy", "type": "quantitative", "scale": {"domain": [0.5, 3.0], "nice": false, "zero": false}, "axis": null},
        "y": {"field": "xs", "type": "quantitative", "scale": {"domain": [1.0, 2.0], "nice": false, "zero": false}, "axis": null},
        "yError": {"field": "dxs"},
        "color": {"field": "series", "type": "nominal"}
      }
    },
    {
      "data": {"name": "exp"},
      "mark": {"type": "errorbar", "ticks": false, "thickness": 1.5},
      "encoding": {
        "x": {"field": "energy", "type": "quantitative", "axis": null},
        "y": {"field": "xs", "type": "quantitative", "axis": null},
        "xError": {"field": "dE"},
        "color": {"field": "series", "type": "nominal"}
      }
    },
    {
      "data": {"name": "exp"},
      "mark": {"type": "point", "filled": true, "size": 240, "strokeWidth": 1.2, "opacity": 1, "clip": true},
      "encoding": {
        "x": {"field": "energy", "type": "quantitative", "axis": null},
        "y": {"field": "xs", "type": "quantitative", "axis": null},
        "fill": {"field": "series", "type": "nominal",
          "scale": {"domain": ["2020 Stamatopoulos", "2015 Salvador-Castin #1", "2015 Salvador-Castin #2", "2015 Salvador-Castin #3", "2009 Tovesson", "2007 Laptev", "1981 Meadows", "1978 Karin", "1973 Furs"],
                    "range": ["#ff5cff", "#c00000", "#ff1010", "#a000a0", "#ffff33", "#ffff33", "#b4b4f0", "#b8b8ec", "#c0c0f4"]},
          "legend": {"title": null, "orient": "none", "legendX": 40, "legendY": 167, "symbolSize": 240, "labelOffset": 13, "rowPadding": 5.5, "labelExpr": "substring(datum.label, 0, 20)"}},
        "stroke": {"field": "series", "type": "nominal",
          "scale": {"domain": ["2020 Stamatopoulos", "2015 Salvador-Castin #1", "2015 Salvador-Castin #2", "2015 Salvador-Castin #3", "2009 Tovesson", "2007 Laptev", "1981 Meadows", "1978 Karin", "1973 Furs"],
                    "range": ["#c040c0", "#900000", "#d00000", "#800080", "#a8a000", "#a8a000", "#5050d8", "#a8a8e0", "#b0b0e8"]},
          "legend": {"title": null, "orient": "none", "legendX": 40, "legendY": 167, "symbolSize": 240, "labelOffset": 13, "rowPadding": 5.5, "labelExpr": "substring(datum.label, 0, 20)"}},
        "shape": {"field": "series", "type": "nominal",
          "scale": {"domain": ["2020 Stamatopoulos", "2015 Salvador-Castin #1", "2015 Salvador-Castin #2", "2015 Salvador-Castin #3", "2009 Tovesson", "2007 Laptev", "1981 Meadows", "1978 Karin", "1973 Furs"],
                    "range": ["circle", "square", "triangle-down", "diamond", "M-1,0.45 L-0.45,-0.45 L1,-0.45 L0.45,0.45 Z", "cross", "M-1,-0.55 L-0.55,-1 L0,-0.45 L0.55,-1 L1,-0.55 L0.45,0 L1,0.55 L0.55,1 L0,0.45 L-0.55,1 L-1,0.55 L-0.45,0 Z", "M-1,-0.9 L1,-0.9 L0.15,0 L1,0.9 L-1,0.9 L-0.15,0 Z", "M-0.75,-1 L0,-0.35 L0.75,-1 L0.75,1 L0,0.35 L-0.75,1 Z"]},
          "legend": {"title": null, "orient": "none", "legendX": 40, "legendY": 167, "symbolSize": 240, "labelOffset": 13, "rowPadding": 5.5, "labelExpr": "substring(datum.label, 0, 20)"}}
      }
    },
    {
      "data": {"name": "eval"},
      "mark": {"type": "line", "strokeWidth": 2.5, "clip": true},
      "encoding": {
        "x": {"field": "energy", "type": "quantitative",
          "axis": {"orient": "bottom", "values": [0.5, 0.6, 0.7, 0.8, 0.9, 1.0, 1.1, 1.2, 1.3, 1.4, 1.5, 1.6, 1.7, 1.8, 1.9, 2.0, 2.1, 2.2, 2.3, 2.4, 2.5, 2.6, 2.7, 2.8, 2.9, 3.0],
                   "labelExpr": "abs(datum.value*2 - round(datum.value*2)) < 0.01 ? format(datum.value, '.1f') : ''",
                   "labelAlign": {"condition": {"test": "datum.value > 2.95", "value": "right"}, "value": "center"},
                   "tickSize": -10,
                   "labelPadding": 14, "title": "Incident Energy (MeV)", "titlePadding": 11}},
        "y": {"field": "xs", "type": "quantitative",
          "axis": {"orient": "left", "values": [1.0, 1.1, 1.2, 1.3, 1.4, 1.5, 1.6, 1.7, 1.8, 1.9, 2.0],
                   "labelExpr": "abs(datum.value*2 - round(datum.value*2)) < 0.01 ? format(datum.value, '.1f') : ''",
                   "tickSize": -10,
                   "labelPadding": 27, "title": "Cross Section (barns)", "titlePadding": 101}},
        "color": {"field": "lib", "type": "nominal",
          "scale": {"domain": ["ENDF/B-VIII.0: PU-240(N,F)", "ENDF/B-VII.1: PU-240(N,F)", "JEFF-3.3: PU-240(N,F)", "JEFF-3.1: PU-240(N,F)", "JENDL-5: PU-240(N,F)", "2020 Stamatopoulos", "2015 Salvador-Castin #1", "2015 Salvador-Castin #2", "2015 Salvador-Castin #3", "2009 Tovesson", "2007 Laptev", "1981 Meadows", "1978 Karin", "1973 Furs"],
                    "range": ["#00a000", "#b00000", "#707070", "#b4ac00", "#5a5aff", "#ff50ff", "#ff3030", "#ff3030", "#ff70ff", "#c0b800", "#c8c000", "#5050e0", "#b0b0b0", "#c0c0f0"]},
          "legend": {"title": null, "orient": "none", "legendX": 54, "legendY": 31, "symbolType": "M-3,0 L3,0", "symbolSize": 427, "symbolStrokeWidth": 3, "labelOffset": 30, "rowPadding": 4,
                     "values": ["ENDF/B-VIII.0: PU-240(N,F)", "ENDF/B-VII.1: PU-240(N,F)", "JEFF-3.3: PU-240(N,F)", "JEFF-3.1: PU-240(N,F)", "JENDL-5: PU-240(N,F)"]}}
      }
    },
    {
      "data": {"name": "arrows"},
      "mark": {"type": "rule", "color": "black", "strokeWidth": 2},
      "encoding": {
        "x": {"field": "energy", "type": "quantitative", "axis": null},
        "y": {"field": "xs", "type": "quantitative", "axis": null},
        "x2": {"field": "energy2"},
        "y2": {"field": "xs2"}
      }
    },
    {
      "data": {"name": "arrows"},
      "transform": [{"filter": "datum.id == 'a1'"}],
      "mark": {"type": "point", "shape": "M0,0 L0.38,1 L-0.38,1 Z", "size": 900, "filled": true, "color": "black", "opacity": 1, "angle": 228.8},
      "encoding": {
        "x": {"field": "energy2", "type": "quantitative", "axis": null},
        "y": {"field": "xs2", "type": "quantitative", "axis": null}
      }
    },
    {
      "data": {"name": "arrows"},
      "transform": [{"filter": "datum.id == 'a2'"}],
      "mark": {"type": "point", "shape": "M0,0 L0.38,1 L-0.38,1 Z", "size": 900, "filled": true, "color": "black", "opacity": 1, "angle": 326.3},
      "encoding": {
        "x": {"field": "energy2", "type": "quantitative", "axis": null},
        "y": {"field": "xs2", "type": "quantitative", "axis": null}
      }
    },
    {
      "data": {"name": "arrows"},
      "transform": [{"filter": "datum.id == 'a3'"}],
      "mark": {"type": "point", "shape": "M0,0 L0.38,1 L-0.38,1 Z", "size": 900, "filled": true, "color": "black", "opacity": 1, "angle": 331.4},
      "encoding": {
        "x": {"field": "energy2", "type": "quantitative", "axis": null},
        "y": {"field": "xs2", "type": "quantitative", "axis": null}
      }
    },
    {
      "data": {"name": "darrows"},
      "transform": [{"filter": "datum.id == 'A'"}],
      "mark": {"type": "point", "shape": "M0,-1 L0.37,-0.47 L0.15,-0.47 L0.15,0.47 L0.37,0.47 L0,1 L-0.37,0.47 L-0.15,0.47 L-0.15,-0.47 L-0.37,-0.47 Z", "size": 9025, "filled": true, "fill": "#ffff00", "stroke": "black", "strokeWidth": 2.5, "opacity": 1, "strokeJoin": "miter"},
      "encoding": {
        "x": {"field": "energy", "type": "quantitative", "axis": null},
        "y": {"field": "xs", "type": "quantitative", "axis": null}
      }
    },
    {
      "data": {"name": "darrows"},
      "transform": [{"filter": "datum.id == 'B'"}],
      "mark": {"type": "point", "shape": "M0,-1 L0.58,-0.24 L0.25,-0.24 L0.25,0.24 L0.58,0.24 L0,1 L-0.58,0.24 L-0.25,0.24 L-0.25,-0.24 L-0.58,-0.24 Z", "size": 3249, "filled": true, "fill": "#ffff00", "stroke": "black", "strokeWidth": 2.5, "opacity": 1, "strokeJoin": "miter"},
      "encoding": {
        "x": {"field": "energy", "type": "quantitative", "axis": null},
        "y": {"field": "xs", "type": "quantitative", "axis": null}
      }
    },
    {
      "data": {"name": "darrows"},
      "transform": [{"filter": "datum.id == 'C'"}],
      "mark": {"type": "point", "shape": "M0,-1 L0.31,-0.52 L0.13,-0.52 L0.13,0.52 L0.31,0.52 L0,1 L-0.31,0.52 L-0.13,0.52 L-0.13,-0.52 L-0.31,-0.52 Z", "size": 11025, "filled": true, "fill": "#ffff00", "stroke": "black", "strokeWidth": 2.5, "opacity": 1, "strokeJoin": "miter"},
      "encoding": {
        "x": {"field": "energy", "type": "quantitative", "axis": null},
        "y": {"field": "xs", "type": "quantitative", "axis": null}
      }
    },
    {
      "data": {"name": "notes"},
      "mark": {"type": "text", "align": "left", "baseline": "alphabetic", "font": "Liberation Sans", "fontSize": 29, "color": "black"},
      "encoding": {
        "x": {"field": "energy", "type": "quantitative",
          "axis": {"orient": "top", "values": [0.5, 0.6, 0.7, 0.8, 0.9, 1.0, 1.1, 1.2, 1.3, 1.4, 1.5, 1.6, 1.7, 1.8, 1.9, 2.0, 2.1, 2.2, 2.3, 2.4, 2.5, 2.6, 2.7, 2.8, 2.9, 3.0], "labels": false, "title": null, "tickSize": -10}},
        "y": {"field": "xs", "type": "quantitative",
          "axis": {"orient": "right", "values": [1.0, 1.1, 1.2, 1.3, 1.4, 1.5, 1.6, 1.7, 1.8, 1.9, 2.0], "labels": false, "title": null, "tickSize": -10}},
        "text": {"field": "text"}
      }
    },
    {
      "data": {"values": [{"energy": 2.1995, "xs": 1.408, "text": "240"}]},
      "mark": {"type": "text", "align": "left", "baseline": "alphabetic", "font": "Liberation Sans", "fontSize": 31, "color": "black"},
      "encoding": {
        "x": {"field": "energy", "type": "quantitative", "axis": null},
        "y": {"field": "xs", "type": "quantitative", "axis": null},
        "text": {"field": "text"}
      }
    },
    {
      "data": {"values": [{"energy": 2.3472, "xs": 1.3828, "text": "Pu(n,f)"}]},
      "mark": {"type": "text", "align": "left", "baseline": "alphabetic", "font": "Liberation Sans", "fontSize": 51, "color": "black"},
      "encoding": {
        "x": {"field": "energy", "type": "quantitative", "axis": null},
        "y": {"field": "xs", "type": "quantitative", "axis": null},
        "text": {"field": "text"}
      }
    }
  ],
  "resolve": {"axis": {"x": "independent", "y": "independent"}}
}
